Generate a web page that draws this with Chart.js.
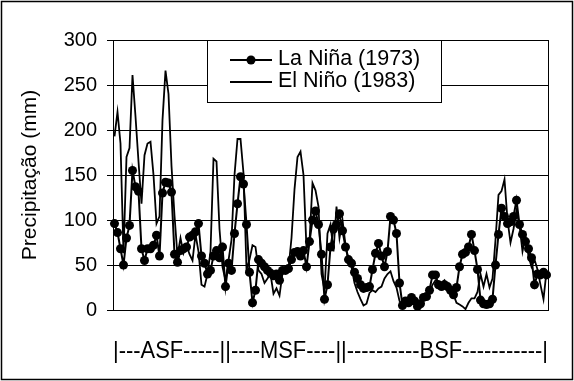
<!DOCTYPE html>
<html><head><meta charset="utf-8">
<script src="https://cdn.jsdelivr.net/npm/chart.js@4.4.0/dist/chart.umd.min.js"></script>
<style>html,body{margin:0;padding:0;background:#fff}#wrap{width:574px;height:381px;position:relative}</style>
</head><body><div id="wrap"><canvas id="c" width="574" height="381"></canvas></div>
<script>
const laNina = [96,86,68,50,80,94,155,137,132,68,
  55,68,68,72,83,60,130,142,141,131,
  62,53,66,68,70,81,83,87,96,60,
  52,40,44,60,66,58,70,26,52,44,
  85,118,148,140,95,42,8,22,56,52,
  48,44,41,38,40,33,44,44,46,56,
  64,65,60,66,48,76,100,110,95,62,
  12,28,70,90,95,107,88,70,56,52,
  42,35,28,24,25,26,45,63,74,60,
  48,65,104,100,85,30,5,10,8,14,
  10,4,7,14,15,22,39,39,28,26,
  28,26,22,17,25,48,62,64,70,84,
  66,45,11,7,6,7,12,50,84,113,
  104,96,98,104,122,95,84,76,68,58,
  28,40,39,42,39];
const elNino = [193,220,185,63,170,180,261,215,165,118,
  172,185,187,150,96,104,211,266,240,160,
  105,60,80,63,72,62,55,84,65,28,
  26,40,65,168,165,90,48,33,55,78,
  150,190,190,152,45,56,72,70,44,40,
  30,35,40,18,24,16,41,42,46,80,
  134,170,176,150,68,76,141,133,115,40,
  22,85,95,65,115,80,100,72,56,48,
  30,20,12,5,7,19,22,20,24,26,
  35,40,43,32,25,10,5,8,10,12,
  8,6,10,14,15,19,28,33,32,30,
  33,26,20,17,8,6,4,1,8,13,
  13,20,40,26,40,25,35,78,128,132,
  145,100,75,90,110,94,65,82,60,48,
  56,45,28,12,43];
const stations = laNina.map((_, i) => String(i + 1));
const yTicks = [0, 50, 100, 150, 200, 250, 300];
const seriesNames = ['La Niña (1973)', 'El Niño (1983)'];
const xAxisText = '|---ASF-----||----MSF----||----------BSF-----------|';
const yAxisText = 'Precipitação (mm)';
const FONT = "'Liberation Sans', Arial, sans-serif";

const framePlugin = {
  id: 'frame',
  beforeDraw(chart) {
    const ctx = chart.ctx;
    ctx.save(); ctx.fillStyle = '#fff'; ctx.fillRect(0, 0, chart.width, chart.height); ctx.restore();
  },
  afterDraw(chart) {
    const ctx = chart.ctx, a = chart.chartArea;
    ctx.save();
    ctx.strokeStyle = '#000';
    ctx.lineWidth = 1.5;
    ctx.strokeRect(1.5, 1.5, chart.width - 3, chart.height - 3);
    ctx.lineWidth = 1;
    ctx.strokeRect(Math.round(a.left) + 0.5, Math.round(a.top) + 0.5, Math.round(a.right - a.left), Math.round(a.bottom - a.top));
    // legend box
    const lx0 = 207, ly0 = Math.round(a.top), lx1 = 441, ly1 = 102;
    ctx.fillStyle = '#fff';
    ctx.fillRect(lx0, ly0, lx1 - lx0, ly1 - ly0);
    ctx.strokeRect(lx0 + 0.5, ly0 + 0.5, lx1 - lx0, ly1 - ly0);
    const rows = [60, 82];
    ctx.lineWidth = 1.8;
    rows.forEach((ry, k) => {
      ctx.beginPath(); ctx.moveTo(230, ry); ctx.lineTo(272, ry); ctx.stroke();
      if (k === 0) { ctx.beginPath(); ctx.arc(251, ry, 4.5, 0, Math.PI * 2); ctx.fillStyle = '#000'; ctx.fill(); }
      ctx.fillStyle = '#000';
      ctx.font = '21.5px ' + FONT;
      ctx.textBaseline = 'middle';
      ctx.textAlign = 'left';
      ctx.fillText(seriesNames[k], 278, ry - 1);
    });
    ctx.restore();
  }
};

new Chart(document.getElementById('c'), {
  type: 'line',
  data: {
    labels: stations,
    datasets: [
      { label: seriesNames[0], data: laNina, borderColor: '#000', backgroundColor: '#000', borderWidth: 2,
        pointRadius: 4.5, pointBackgroundColor: '#000', pointBorderWidth: 0, tension: 0 },
      { label: seriesNames[1], data: elNino, borderColor: '#000', borderWidth: 1.8, pointRadius: 0, tension: 0 }
    ]
  },
  options: {
    responsive: false,
    animation: false,
    devicePixelRatio: 1,
    layout: { padding: { top: 40, right: 26, bottom: 0, left: 0 } },
    plugins: { legend: { display: false }, tooltip: { enabled: false } },
    scales: {
      x: {
        offset: true,
        ticks: { display: false },
        grid: { display: false, drawTicks: false },
        border: { display: false },
        title: { display: true, text: xAxisText, color: '#000', font: { family: FONT, size: 24 }, padding: { top: 0, bottom: 15 } },
        afterFit(s) { s.height = 71; }
      },
      y: {
        min: 0, max: 300,
        afterBuildTicks(s) { s.ticks = yTicks.map(v => ({ value: v })); },
        ticks: { color: '#000', font: { family: FONT, size: 20 }, padding: 10 },
        grid: { color: '#000', lineWidth: 1, tickLength: 6 },
        border: { display: true, color: '#000', width: 1 },
        title: { display: true, text: yAxisText, color: '#000', font: { family: FONT, size: 21 }, padding: { top: 18, bottom: 0 } },
        afterFit(s) { s.width = 113; }
      }
    }
  },
  plugins: [framePlugin]
});
</script></body></html>
